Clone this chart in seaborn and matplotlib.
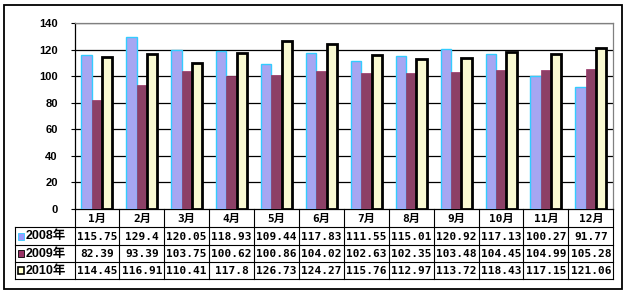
import matplotlib
matplotlib.use("Agg")
import matplotlib.pyplot as plt
import matplotlib.transforms as mtransforms
from matplotlib.patches import Rectangle
import seaborn as sns
import pandas as pd

months = ["1月", "2月", "3月", "4月", "5月", "6月", "7月", "8月", "9月", "10月", "11月", "12月"]
years = ["2008年", "2009年", "2010年"]
v2008 = [115.75, 129.4, 120.05, 118.93, 109.44, 117.83, 111.55, 115.01, 120.92, 117.13, 100.27, 91.77]
v2009 = [82.39, 93.39, 103.75, 100.62, 100.86, 104.02, 102.63, 102.35, 103.48, 104.45, 104.99, 105.28]
v2010 = [114.45, 116.91, 110.41, 117.8, 126.73, 124.27, 115.76, 112.97, 113.72, 118.43, 117.15, 121.06]
labels2008 = ["115.75", "129.4", "120.05", "118.93", "109.44", "117.83", "111.55", "115.01", "120.92", "117.13", "100.27", "91.77"]
labels2009 = ["82.39", "93.39", "103.75", "100.62", "100.86", "104.02", "102.63", "102.35", "103.48", "104.45", "104.99", "105.28"]
labels2010 = ["114.45", "116.91", "110.41", "117.8", "126.73", "124.27", "115.76", "112.97", "113.72", "118.43", "117.15", "121.06"]

series = [v2008, v2009, v2010]
series_labels = [labels2008, labels2009, labels2010]
fills = {"2008年": "#9999FF", "2009年": "#993366", "2010年": "#FFFFCC"}
edges = {"2008年": "#33CCFF", "2009年": "#993366", "2010年": "#000000"}
edge_w = {"2008年": 1.0, "2009年": 0.5, "2010年": 2.0}

df = pd.DataFrame({
    "month": [m for s in series for m in months],
    "year": [y for y, s in zip(years, series) for _ in s],
    "value": [v for s in series for v in s],
})

W, H = 628, 295
fig = plt.figure(figsize=(W / 100, H / 100), dpi=100)
fig.patch.set_facecolor("white")

L, R, T, B = 74.5, 613.3, 23.3, 209.0
ax = fig.add_axes([L / W, 1 - B / H, (R - L) / W, (B - T) / H])
sns.barplot(data=df, x="month", y="value", hue="year", order=months, hue_order=years,
            palette=fills, width=0.69, ax=ax, legend=False, zorder=3)
for cont, y in zip(ax.containers, years):
    for p in cont:
        p.set_edgecolor(edges[y])
        p.set_linewidth(edge_w[y])

ax.set_ylim(0, 140)
ax.set_xlim(-0.5, len(months) - 0.5)
ax.set_yticks(range(0, 141, 20))
ax.set_yticklabels([str(t) for t in range(0, 141, 20)], fontweight="bold", fontsize=8,
                   family="Liberation Sans")
ax.tick_params(axis="y", length=3, width=0.8, pad=9, color="black")
ax.set_xticks([])
ax.set_xlabel("")
ax.set_ylabel("")
for t in range(20, 141, 20):
    ax.axhline(t, color="black", lw=0.9, zorder=1)
ax.spines["top"].set_color("#808080")
ax.spines["right"].set_color("#808080")
ax.spines["left"].set_color("black")
ax.spines["bottom"].set_color("black")
for s in ax.spines.values():
    s.set_linewidth(0.9)
ax.set_facecolor("white")

# overlay in pixel coordinates
ov = fig.add_axes([0, 0, 1, 1], zorder=5)
ov.set_xlim(0, W)
ov.set_ylim(H, 0)
ov.axis("off")
ov.patch.set_alpha(0)
blend = mtransforms.blended_transform_factory(ax.transData, ov.transData)

# outer frame
ov.add_patch(Rectangle((4, 5), 618, 284, fill=False, edgecolor="black", lw=1.3))

# table geometry
tab_left = 14.7
row_lines = [227.0, 245.0, 261.7, 279.0]
lw_t = 0.8
# header row verticals
for i in range(len(months) + 1):
    x = i - 0.5
    ov.plot([x, x], [B, row_lines[-1]], color="black", lw=lw_t, transform=blend, clip_on=False)
for yl in row_lines:
    ov.plot([tab_left, R], [yl, yl], color="black", lw=lw_t, clip_on=False)
ov.plot([tab_left, tab_left], [row_lines[0], row_lines[-1]], color="black", lw=lw_t, clip_on=False)

# month headers
for i, m in enumerate(months):
    ov.text(i, (B + row_lines[0]) / 2 + 0.5, m, transform=blend, ha="center", va="center",
            fontsize=8, fontweight="bold", family=["DejaVu Sans Mono", "Noto Sans CJK SC"])

# data rows
for r, (y, labs) in enumerate(zip(years, series_labels)):
    yc = (row_lines[r] + row_lines[r + 1]) / 2 + 0.5
    ov.add_patch(Rectangle((17.5, yc - 3.5), 6.5, 7, facecolor=fills[y],
                           edgecolor=edges[y] if y != "2009年" else "black",
                           lw=1.2 if y == "2010年" else 0.6))
    ov.text(25.5, yc, y, ha="left", va="center", fontsize=9, fontweight="bold",
            family=["Liberation Sans", "Noto Sans CJK SC"])
    for i, lab in enumerate(labs):
        ov.text(i, yc, lab, transform=blend, ha="center", va="center", fontsize=8,
                fontweight="bold", family="DejaVu Sans Mono")

fig.savefig("out.png", dpi=100)
